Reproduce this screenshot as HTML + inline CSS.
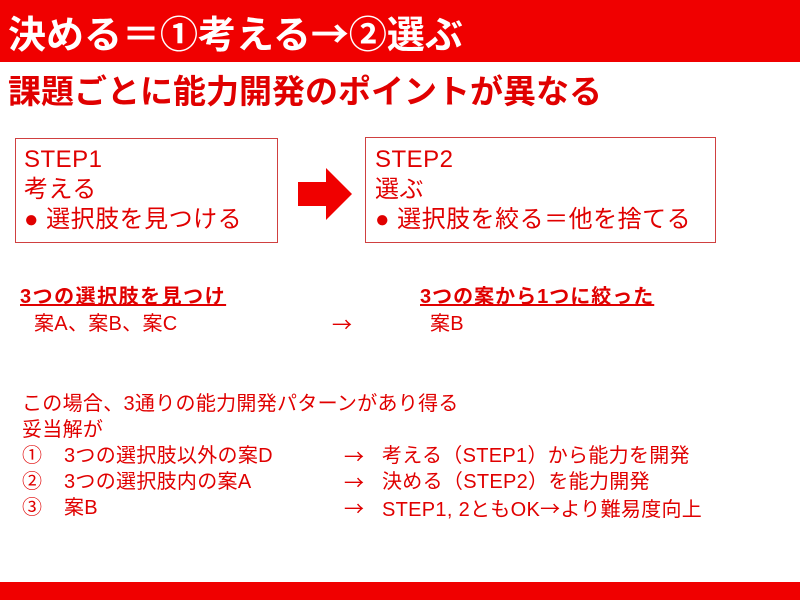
<!DOCTYPE html><html><head><meta charset="utf-8"><style>
body{margin:0;width:800px;height:600px;position:relative;background:#fff;overflow:hidden;font-family:"Liberation Sans","Noto Sans CJK JP",sans-serif;color:#e00000}
div{position:absolute;white-space:nowrap}
.hdr{left:0;top:0;width:800px;height:62px;background:#f00000}
.ft{left:0;top:582px;width:800px;height:18px;background:#f00000}
.box{border:1px solid #d04040;background:#fff}
.t{font-size:24px;line-height:30px;letter-spacing:0.5px}
.s{font-size:20px;line-height:26px;letter-spacing:0.3px}
.a{font-family:"Noto Sans CJK JP",sans-serif}
</style></head><body>
<div class="hdr"></div>
<div style="left:8px;top:10px;font-size:38px;line-height:44px;color:#fff;font-weight:bold">決める＝①考える<span class="a">→</span>②選ぶ</div>
<div style="left:8px;top:71px;font-size:33px;line-height:42px;font-weight:bold">課題ごとに能力開発のポイントが異なる</div>
<div class="box" style="left:15px;top:138px;width:261px;height:103px"></div>
<div class="t" style="left:24px;top:145px">STEP1<br>考える<br>● 選択肢を見つける</div>
<svg style="position:absolute;left:298px;top:168px" width="56" height="52"><polygon points="0,14 28,14 28,0 54,26 28,52 28,38 0,38" fill="#f00000"/></svg>
<div class="box" style="left:365px;top:137px;width:349px;height:104px"></div>
<div class="t" style="left:375px;top:145px">STEP2<br>選ぶ<br>● 選択肢を絞る＝他を捨てる</div>
<div class="s" style="left:20px;top:284px;font-weight:bold;text-decoration:underline;letter-spacing:1.5px">3つの選択肢を見つけ</div>
<div class="s" style="left:420px;top:284px;font-weight:bold;text-decoration:underline;letter-spacing:1px">3つの案から1つに絞った</div>
<div class="s" style="left:34px;top:311px">案A、案B、案C</div>
<div class="s a" style="left:332px;top:311px">→</div>
<div class="s" style="left:430px;top:311px">案B</div>
<div class="s" style="left:22px;top:391px">この場合、3通りの能力開発パターンがあり得る<br>妥当解が</div>
<div class="s" style="left:22px;top:443px">①<br>②<br>③</div>
<div class="s" style="left:64px;top:443px">3つの選択肢以外の案D<br>3つの選択肢内の案A<br>案B</div>
<div class="s a" style="left:344px;top:443px">→<br>→<br>→</div>
<div class="s" style="left:382px;top:443px">考える（STEP1）から能力を開発<br>決める（STEP2）を能力開発<br>STEP1, 2ともOK<span class="a">→</span>より難易度向上</div>
<div class="ft"></div>
</body></html>
